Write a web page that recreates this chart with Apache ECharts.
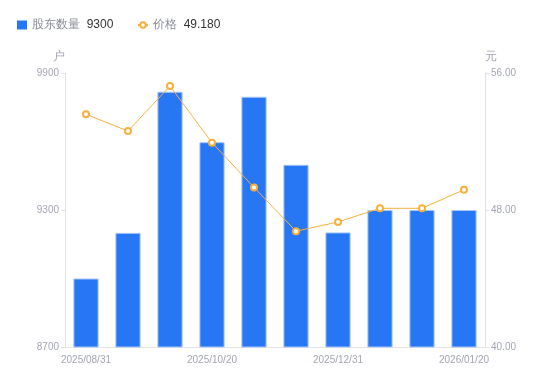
<!DOCTYPE html>
<html><head><meta charset="utf-8">
<script src="https://cdn.jsdelivr.net/npm/echarts@6/dist/echarts.min.js"></script>
<style>html,body{margin:0;padding:0;background:#fff}#c{width:550px;height:381px}</style>
</head><body><div id="c"></div>
<script>
var categories = ['2025/08/31','2025/09/20','2025/09/30','2025/10/20','2025/11/10','2025/11/30','2025/12/31','2026/01/09','2026/01/15','2026/01/20'];
var holders = [9000, 9200, 9818, 9597, 9796, 9498, 9202, 9300, 9300, 9300];
var prices = [53.59, 52.61, 55.24, 51.93, 49.32, 46.76, 47.30, 48.10, 48.10, 49.18];
var leftTicks = {min: 8700, max: 9900, interval: 600};
var rightTicks = {min: 40, max: 56, interval: 8};
var legendValues = {'股东数量': '9300', '价格': '49.180'};

var chart = echarts.init(document.getElementById('c'), null, {renderer: 'canvas'});
var axisColor = '#e3e3e6';
var labelColor = '#a3a6b4';
var legendText = {
  rich: {
    a: {fontSize: 12, color: '#8a8d99', fontFamily: 'sans-serif'},
    b: {fontSize: 12, color: '#333333', fontFamily: 'sans-serif'}
  }
};
var legendFmt = function (n) { return '{a|' + n + '}  {b|' + legendValues[n] + '}'; };
chart.setOption({
  animation: false,
  legend: [{
    left: 12, top: 14,
    itemWidth: 10, itemHeight: 9,
    data: [{name: '股东数量', icon: 'rect', itemStyle: {borderWidth: 0}}],
    formatter: legendFmt, textStyle: legendText
  }, {
    left: 132, top: 14,
    itemWidth: 10, itemHeight: 7,
    data: [{name: '价格'}],
    formatter: legendFmt, textStyle: legendText
  }],
  grid: {left: 65, right: 65, top: 73, bottom: 34, containLabel: false},
  xAxis: {
    type: 'category', data: categories, boundaryGap: true,
    axisLine: {lineStyle: {color: axisColor}},
    axisTick: {show: false},
    axisLabel: {interval: 2, color: labelColor, fontSize: 10, margin: 8}
  },
  yAxis: [{
    type: 'value', min: leftTicks.min, max: leftTicks.max, interval: leftTicks.interval,
    name: '户', nameGap: 10,
    nameTextStyle: {color: labelColor, fontSize: 12, align: 'right'},
    axisLine: {show: true, lineStyle: {color: axisColor}},
    axisTick: {show: true, length: 4, lineStyle: {color: axisColor}},
    splitLine: {show: false},
    axisLabel: {color: labelColor, fontSize: 10, margin: 6, formatter: function (v) { return String(v); }}
  }, {
    type: 'value', min: rightTicks.min, max: rightTicks.max, interval: rightTicks.interval,
    name: '元', nameGap: 10,
    nameTextStyle: {color: labelColor, fontSize: 12, align: 'left'},
    axisLine: {show: true, lineStyle: {color: axisColor}},
    axisTick: {show: true, length: 4, lineStyle: {color: axisColor}},
    splitLine: {show: false},
    axisLabel: {color: labelColor, fontSize: 10, margin: 6, formatter: function (v) { return v.toFixed(2); }}
  }],
  series: [{
    name: '股东数量', type: 'bar', yAxisIndex: 0, data: holders,
    barWidth: '60%',
    itemStyle: {color: '#2777f5', borderColor: '#a9c6f9', borderWidth: 1}
  }, {
    name: '价格', type: 'line', yAxisIndex: 1, data: prices,
    symbol: 'emptyCircle', symbolSize: 6,
    lineStyle: {color: '#f7b03c', width: 1},
    itemStyle: {color: '#f7b03c', borderWidth: 1.5}
  }]
});
</script></body></html>
